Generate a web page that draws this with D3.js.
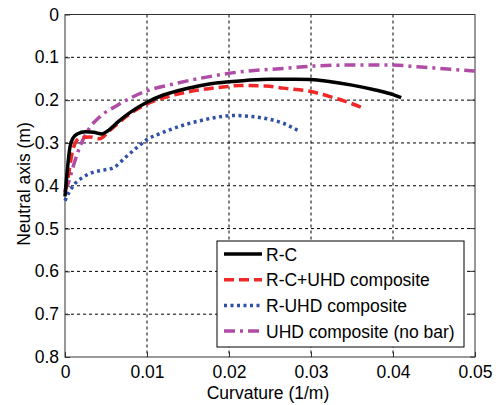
<!DOCTYPE html>
<html>
<head>
<meta charset="utf-8">
<script src="https://cdn.jsdelivr.net/npm/d3@7"></script>
<style>
body { margin: 0; background: #fff; }
text { font-family: "Liberation Sans", Arial, sans-serif; }
</style>
</head>
<body>
<script>
// curvature (1/m) vs neutral axis depth (m)
var rc = [[0,0.425],[0.0003,0.36],[0.0006,0.31],[0.001,0.288],[0.0015,0.279],[0.0025,0.274],[0.0035,0.275],[0.0045,0.279],[0.0052,0.272],[0.0065,0.25],[0.008,0.228],[0.01,0.205],[0.012,0.188],[0.014,0.177],[0.016,0.168],[0.018,0.161],[0.02,0.157],[0.022,0.154],[0.025,0.151],[0.028,0.151],[0.03,0.152],[0.032,0.156],[0.035,0.165],[0.038,0.177],[0.04,0.187],[0.041,0.194]];
var rcUhd = [[0,0.415],[0.0004,0.378],[0.0008,0.33],[0.0014,0.295],[0.002,0.288],[0.003,0.286],[0.0042,0.29],[0.0055,0.27],[0.0075,0.238],[0.01,0.209],[0.0125,0.192],[0.0165,0.176],[0.019,0.17],[0.0213,0.166],[0.0245,0.167],[0.0266,0.172],[0.03,0.18],[0.0327,0.194],[0.0345,0.205],[0.0362,0.217]];
var rUhd = [[0,0.435],[0.0005,0.415],[0.001,0.40],[0.0022,0.38],[0.0035,0.368],[0.0048,0.363],[0.006,0.357],[0.0073,0.335],[0.0085,0.315],[0.01,0.292],[0.012,0.275],[0.0145,0.258],[0.0165,0.248],[0.0185,0.24],[0.0205,0.236],[0.0226,0.238],[0.025,0.245],[0.0266,0.254],[0.0287,0.274]];
var uhd = [[0,0.41],[0.0004,0.394],[0.001,0.355],[0.0015,0.325],[0.0026,0.277],[0.0043,0.238],[0.0063,0.213],[0.0083,0.192],[0.01,0.178],[0.0124,0.166],[0.0165,0.149],[0.0213,0.134],[0.0266,0.126],[0.0307,0.12],[0.035,0.118],[0.0396,0.118],[0.043,0.122],[0.047,0.128],[0.05,0.132]];

var names = ["R-C", "R-C+UHD composite", "R-UHD composite", "UHD composite (no bar)"];
var xTicks = [0, 0.01, 0.02, 0.03, 0.04, 0.05];
var yTicks = [0, 0.1, 0.2, 0.3, 0.4, 0.5, 0.6, 0.7, 0.8];

var width = 499,
    height = 405;
var pLeft = 65, pRight = 475, pTop = 14.5, pBottom = 357;
var fs = "17.5px";

var svg = d3.select("body").append("svg")
    .attr("width", width)
    .attr("height", height)
    .style("display", "block");

var x = d3.scaleLinear().domain([0, 0.05]).range([pLeft, pRight]);
var y = d3.scaleLinear().domain([0, 0.8]).range([pTop, pBottom]);

// grid
svg.append("g").selectAll("line")
    .data(xTicks.slice(1, -1))
    .enter().append("line")
    .attr("x1", function(d) { return x(d); })
    .attr("x2", function(d) { return x(d); })
    .attr("y1", pTop).attr("y2", pBottom)
    .attr("stroke", "#000").attr("stroke-width", 1)
    .attr("stroke-dasharray", "3,3");

svg.append("g").selectAll("line")
    .data(yTicks.slice(1, -1))
    .enter().append("line")
    .attr("y1", function(d) { return y(d); })
    .attr("y2", function(d) { return y(d); })
    .attr("x1", pLeft).attr("x2", pRight)
    .attr("stroke", "#000").attr("stroke-width", 1)
    .attr("stroke-dasharray", "3,3");

// axes
var xAxis = svg.append("g")
    .attr("transform", "translate(0," + pBottom + ")")
    .call(d3.axisBottom(x).tickValues(xTicks).tickSize(-5).tickPadding(9)
        .tickFormat(function(d) { return d === 0 ? "0" : d3.format(".2f")(d); }));
var yAxis = svg.append("g")
    .attr("transform", "translate(" + pLeft + ",0)")
    .call(d3.axisLeft(y).tickValues(yTicks).tickSize(-5).tickPadding(6)
        .tickFormat(function(d) { return d === 0 ? "0" : d3.format(".1f")(d); }));

// right side ticks
svg.append("g").selectAll("line")
    .data(yTicks)
    .enter().append("line")
    .attr("x1", pRight - 5).attr("x2", pRight)
    .attr("y1", function(d) { return y(d); })
    .attr("y2", function(d) { return y(d); })
    .attr("stroke", "#333");

[xAxis, yAxis].forEach(function(g) {
    g.select(".domain").remove();
    g.selectAll("text").style("font-size", fs).attr("fill", "#000")
        .style("font-family", "'Liberation Sans', Arial, sans-serif");
    g.selectAll("line").attr("stroke", "#333");
});

svg.append("rect")
    .attr("x", pLeft).attr("y", pTop)
    .attr("width", pRight - pLeft).attr("height", pBottom - pTop)
    .attr("fill", "none").attr("stroke", "#333").attr("stroke-width", 1);

var line = d3.line()
    .x(function(d) { return x(d[0]); })
    .y(function(d) { return y(d[1]); })
    .curve(d3.curveMonotoneX);

var styles = [
    { data: rc, color: "#000000", dash: null, w: 3.5 },
    { data: rcUhd, color: "#f02828", dash: "10,5", w: 3.5 },
    { data: rUhd, color: "#3050a8", dash: "3,3.5", w: 3.5 },
    { data: uhd, color: "#b04ca6", dash: "11,5,3,5", w: 3.5 }
];

svg.append("g").selectAll("path")
    .data(styles.slice().reverse())
    .enter().append("path")
    .attr("d", function(d) { return line(d.data); })
    .attr("fill", "none")
    .attr("stroke", function(d) { return d.color; })
    .attr("stroke-width", function(d) { return d.w; })
    .attr("stroke-dasharray", function(d) { return d.dash; });

// legend
var lg = svg.append("g");
lg.append("rect")
    .attr("x", 217).attr("y", 241)
    .attr("width", 247).attr("height", 106)
    .attr("fill", "#fff").attr("stroke", "#000").attr("stroke-width", 1);

var items = lg.selectAll("g.item")
    .data(styles)
    .enter().append("g")
    .attr("transform", function(d, i) { return "translate(224," + (254 + i * 25.7) + ")"; });

items.append("line")
    .attr("x1", 0).attr("x2", 38)
    .attr("stroke", function(d) { return d.color; })
    .attr("stroke-width", 3.5)
    .attr("stroke-dasharray", function(d) { return d.dash; });

items.append("text")
    .attr("x", 42).attr("y", 6.5)
    .style("font-size", fs)
    .text(function(d, i) { return names[i]; });

// axis titles
svg.append("text")
    .attr("x", 268).attr("y", 399)
    .attr("text-anchor", "middle")
    .style("font-size", fs)
    .text("Curvature (1/m)");

svg.append("text")
    .attr("transform", "translate(30,184) rotate(-90)")
    .attr("text-anchor", "middle")
    .style("font-size", fs)
    .text("Neutral axis (m)");
</script>
</body>
</html>
